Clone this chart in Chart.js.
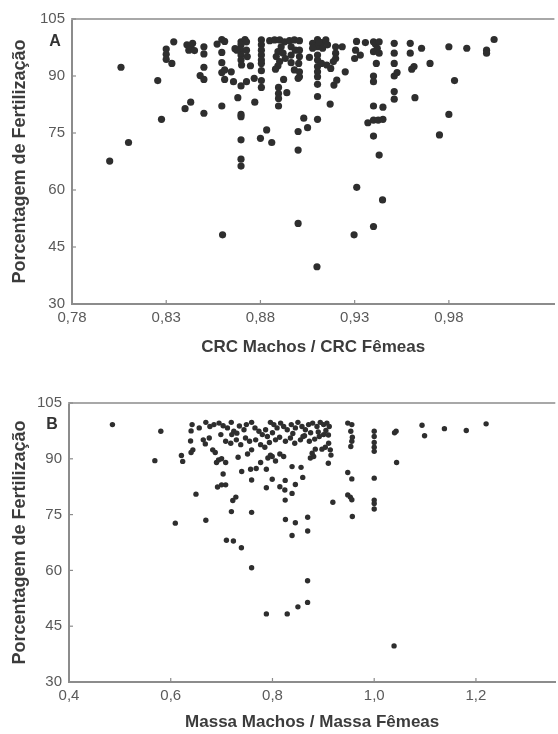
<!DOCTYPE html>
<html>
<head>
<meta charset="utf-8">
<script src="https://cdn.jsdelivr.net/npm/chart.js@4.4.1/dist/chart.umd.min.js"></script>
<style>
  html, body { margin: 0; padding: 0; background: #fff; }
  #wrapA { position: absolute; left: 0; top: 0; width: 558px; height: 360px; }
  #wrapB { position: absolute; left: 0; top: 360px; width: 558px; height: 374px; }
</style>
</head>
<body>
<div id="wrapA"><canvas id="chartA"></canvas></div>
<div id="wrapB"><canvas id="chartB"></canvas></div>
<script>
// ---------- Panel A data: CRC Machos / CRC Fêmeas vs % fertilização ----------
const crcRatio = [
  0.800,0.806,0.810,0.8255,0.8275,0.830,0.830,0.830,0.833,0.834,0.840,0.843,0.841,0.843,0.842,0.845,0.844,
  0.850,0.850,0.850,0.850,0.850,0.848,0.857,0.8595,0.8595,0.8595,0.8595,0.8595,0.861,0.861,0.861,0.8645,0.8657,0.868,0.8665,0.8697,
  0.8718,0.8726,0.8697,0.8697,0.8697,0.8697,0.870,0.8675,0.8726,0.873,
  0.8726,0.8697,0.8697,0.8697,0.8697,0.8697,0.8697,0.8747,0.8767,0.877,0.880,0.8833,0.886,
  0.8805,0.8805,0.8805,0.8805,0.8805,0.8805,0.8805,0.8805,0.8805,
  0.8849,0.8875,0.8902,0.8928,0.891,0.8893,0.8884,0.8902,0.892,0.8932,0.8893,0.888,
  0.8896,0.8896,0.8896,0.8896,0.8923,0.894,
  0.8954,0.898,0.9007,0.8963,0.8985,0.8963,0.9007,0.9007,0.9003,0.8963,0.898,0.9007,0.9007,0.900,
  0.900,0.900,0.903,0.905,0.906,
  0.9077,0.9103,0.9124,0.9147,0.9103,0.9077,0.913,0.9156,0.911,
  0.9103,0.9103,0.9103,0.9103,0.9103,0.9103,0.9103,0.9103,
  0.9124,0.9152,0.9173,0.9187,0.917,0.919,0.9205,0.9199,0.9199,0.9199,0.9234,0.925,
  0.930,0.9305,0.931,0.933,0.9357,0.940,0.941,0.940,0.942,0.943,0.9415,0.943,
  0.940,0.940,0.940,0.940,0.937,0.940,0.9425,0.945,0.945,0.943,
  0.951,0.951,0.951,0.951,0.9525,0.951,0.951,0.9595,0.9595,0.9603,0.9615,
  0.962,0.9655,0.970,0.975,0.980,0.980,0.983,0.9895,1.0,1.0,1.004,
  0.9311,0.9448,0.900,0.9297,0.940,0.8599,0.910
];
const fertA = [
  67.6,92.3,72.5,88.8,78.6,97.1,95.7,94.4,93.3,99.0,81.4,83.1,98.2,97.6,96.8,96.7,98.6,
  97.7,95.8,92.3,89.1,80.2,90.1,98.4,99.6,96.2,93.5,90.9,82.1,99.1,91.6,89.1,91.1,88.5,84.3,97.2,99.0,
  99.6,99.0,98.2,96.8,95.5,94.2,92.9,96.8,96.8,95.1,
  88.5,87.4,79.9,79.3,73.2,68.1,66.3,92.7,89.4,83.1,73.6,75.8,72.5,
  99.5,98.2,96.8,95.5,94.2,93.3,91.4,88.8,87.0,
  99.3,99.5,99.5,99.0,97.7,96.4,95.1,93.8,96.0,94.6,92.7,91.8,
  87.0,85.4,84.1,82.1,89.1,85.6,
  99.3,99.5,99.3,97.7,96.8,95.5,96.8,95.1,93.3,93.5,91.6,91.1,89.8,89.4,
  75.4,70.5,78.9,76.4,94.9,
  98.6,99.6,98.8,99.5,97.7,97.3,97.3,98.2,99.0,
  95.5,94.2,92.5,91.1,89.8,87.8,84.6,78.6,
  93.3,92.9,92.0,93.8,82.6,87.6,88.9,97.7,96.0,94.6,97.7,91.1,
  94.6,96.8,99.1,95.5,98.8,99.0,98.4,96.4,97.3,96.0,93.3,99.0,
  90.0,88.5,82.1,74.2,77.7,78.4,78.4,78.6,81.8,69.2,
  98.6,96.0,93.3,90.0,90.9,85.9,83.9,98.6,96.0,91.8,92.5,
  84.3,97.3,93.3,74.5,97.7,79.9,88.8,97.3,96.8,96.0,99.6,
  60.7,57.4,51.2,48.2,50.4,48.2,39.8
];

// ---------- Panel B data: Massa Machos / Massa Fêmeas vs % fertilização ----------
const massRatio = [
  0.4854,0.5805,0.5688,0.609,0.621,0.6235,0.6496,0.669,
  0.642,0.640,0.639,0.6435,0.640,0.656,0.664,0.668,
  0.6825,0.6875,0.694,0.690,0.700,0.708,
  0.703,0.692,0.700,0.708,0.728,0.722,0.7193,
  0.7095,0.7232,0.7389,0.759,0.759,0.7395,0.757,0.768,
  0.7324,0.751,0.759,0.7767,0.788,0.788,0.7995,
  0.791,0.7995,0.806,0.796,0.8145,0.822,
  0.8145,0.8243,0.825,0.8385,0.825,0.845,
  0.8385,0.8562,0.8595,0.8255,0.845,0.8385,0.8692,0.8692,
  0.8745,0.881,0.878,0.8842,0.8973,0.9039,0.9104,0.9137,0.915,0.9098,
  0.9187,
  0.948,0.956,0.954,0.957,0.956,0.954,0.948,0.956,0.948,0.953,0.956,0.957,
  1.0,1.0,1.0,1.0,1.0,1.0,1.0,1.0,1.0,
  1.04,1.043,1.044,1.094,1.099,1.138,1.181,1.22,
  0.759,0.869,0.869,0.85,0.829,0.788,1.039,
  0.669,0.677,0.685,0.695,0.703,0.7115,0.719,0.724,0.73,0.744,0.7487,0.759,0.7656,0.7734,0.780,0.7865,0.796,
  0.8027,0.809,0.816,0.822,0.829,0.837,0.845,0.850,0.858,0.8647,0.871,0.879,0.8875,0.894,0.9005,0.907,0.9116,
  0.6757,0.6985,0.708,0.718,0.729,0.7376,0.747,0.755,0.767,0.7767,0.785,0.794,0.806,0.814,0.8255,0.8353,
  0.8438,0.855,0.863,0.8725,0.883,0.892,0.9005,
  0.72,0.735,0.79,0.80,0.84,0.86,0.875,0.89,0.905,0.91
];
const fertB = [
  99.2,97.4,89.5,72.7,90.9,89.3,80.5,73.5,
  99.2,97.5,94.8,92.4,91.7,98.3,95.1,94.0,
  92.4,91.7,89.7,89.0,90.0,89.0,
  85.9,82.4,83.0,83.0,79.7,78.8,75.8,
  68.1,67.9,66.1,75.6,84.3,86.6,87.2,87.4,
  90.4,91.3,92.4,89.0,87.2,82.2,84.5,
  90.2,90.6,89.4,91.0,91.3,90.6,
  82.5,81.6,84.2,80.7,78.9,83.1,
  87.9,87.7,85.0,73.7,72.8,69.4,74.3,70.6,
  90.2,90.6,91.5,92.6,92.6,93.1,94.2,92.4,91.0,88.8,
  78.3,
  99.6,99.2,97.4,95.8,94.7,93.3,86.3,84.6,80.3,79.7,79.0,74.5,
  97.4,96.0,94.4,93.1,92.0,84.8,78.9,78.0,76.5,
  97.0,97.4,89.0,99.0,96.2,98.1,97.6,99.4,
  60.7,57.2,51.4,50.2,48.3,48.3,39.7,
  99.8,98.7,99.2,99.6,98.9,98.3,99.8,97.4,96.9,97.8,99.2,99.8,98.3,97.4,96.5,97.8,99.8,
  99.2,98.3,99.6,98.7,97.8,99.2,98.3,99.8,98.7,97.8,99.2,99.6,98.7,99.8,99.2,99.6,98.7,
  95.6,96.5,94.7,94.2,95.1,93.8,95.6,94.7,95.1,93.8,93.1,94.4,95.1,95.8,94.7,95.6,
  94.2,95.1,96.2,94.7,95.3,96.0,96.5,
  96.5,98.8,96.0,97.0,96.8,96.0,97.0,97.2,97.6,96.4
];

// ---------- Axis ticks ----------
const yTicks = [30, 45, 60, 75, 90, 105];
const xTicksA = [0.78, 0.83, 0.88, 0.93, 0.98];
const xTicksB = [0.4, 0.6, 0.8, 1.0, 1.2];

const FONT = "'Liberation Sans', Arial, Helvetica, sans-serif";
const AXIS_COLOR = '#8c8c8c';
const TICK_COLOR = '#5a5a5a';
const TITLE_COLOR = '#3c3c3c';
const DOT_COLOR = '#2e2e2e';

const frame = {
  id: 'frame',
  afterDraw(chart, args, opts) {
    const {ctx, chartArea: a, scales} = chart;
    ctx.save();
    ctx.strokeStyle = '#a8a8a8';
    ctx.lineWidth = 2;
    ctx.beginPath();
    ctx.moveTo(a.left - 1, a.top);
    ctx.lineTo(a.right, a.top);
    ctx.stroke();
    ctx.strokeStyle = AXIS_COLOR;
    ctx.lineWidth = 1.2;
    scales.x.ticks.forEach(t => {
      const px = scales.x.getPixelForValue(t.value);
      ctx.beginPath(); ctx.moveTo(px, a.bottom); ctx.lineTo(px, a.bottom - 4); ctx.stroke();
    });
    scales.y.ticks.forEach(t => {
      const py = scales.y.getPixelForValue(t.value);
      ctx.beginPath(); ctx.moveTo(a.left, py); ctx.lineTo(a.left + 4, py); ctx.stroke();
    });
    ctx.fillStyle = '#333';
    ctx.font = 'bold 16px ' + FONT;
    ctx.textAlign = 'center';
    ctx.textBaseline = 'middle';
    ctx.fillText(opts.letter, a.left + opts.dx, a.top + opts.dy);
    ctx.restore();
  }
};

function makeChart(id, xs, ys, xTicks, xmin, xmax, decimals, xTitle, cfg) {
  const pts = xs.map((x, i) => ({x: x, y: ys[i]}));
  return new Chart(document.getElementById(id), {
    type: 'scatter',
    data: { datasets: [{
      data: pts,
      backgroundColor: DOT_COLOR,
      borderWidth: 0,
      pointRadius: cfg.r,
      pointHoverRadius: cfg.r
    }]},
    options: {
      responsive: true,
      maintainAspectRatio: false,
      animation: false,
      events: [],
      layout: { padding: { top: cfg.top, left: 0, right: 1, bottom: 0 } },
      plugins: {
        legend: { display: false },
        tooltip: { enabled: false },
        frame: { letter: cfg.letter, dx: cfg.ldx, dy: cfg.ldy }
      },
      scales: {
        x: {
          type: 'linear',
          min: xmin, max: xmax,
          afterBuildTicks: s => { s.ticks = xTicks.map(v => ({value: v})); },
          afterFit: s => { s.height = cfg.xh; },
          grid: { display: true, drawOnChartArea: false, drawTicks: false },
          border: { display: true, color: AXIS_COLOR, width: 2 },
          ticks: {
            padding: 5,
            color: TICK_COLOR,
            font: { family: FONT, size: 15 },
            callback: v => Number(v).toFixed(decimals).replace('.', ',')
          },
          title: {
            display: true, text: xTitle, color: TITLE_COLOR,
            font: { family: FONT, size: 17, weight: 'bold' },
            padding: { top: 0, bottom: cfg.xtb }
          }
        },
        y: {
          type: 'linear',
          min: 30, max: 105,
          afterBuildTicks: s => { s.ticks = yTicks.map(v => ({value: v})); },
          afterFit: s => { s.width = cfg.yw; },
          grid: { display: true, drawOnChartArea: false, drawTicks: false },
          border: { display: true, color: AXIS_COLOR, width: 2 },
          ticks: {
            padding: 7,
            color: TICK_COLOR,
            font: { family: FONT, size: 15 },
            callback: v => String(v)
          },
          title: {
            display: true, text: 'Porcentagem de Fertilização', color: TITLE_COLOR,
            font: { family: FONT, size: 18, weight: 'bold' },
            padding: { top: 9, bottom: 0 }
          }
        }
      }
    },
    plugins: [frame]
  });
}

makeChart('chartA', crcRatio, fertA, xTicksA, 0.78, 1.036, 2, 'CRC Machos / CRC Fêmeas',
  { r: 3.6, top: 19, xh: 56, yw: 72, xtb: 2, letter: 'A', ldx: -17, ldy: 23 });
makeChart('chartB', massRatio, fertB, xTicksB, 0.4, 1.356, 1, 'Massa Machos / Massa Fêmeas',
  { r: 2.7, top: 43, xh: 52, yw: 69, xtb: 1, letter: 'B', ldx: -17, ldy: 22 });
</script>
</body>
</html>
